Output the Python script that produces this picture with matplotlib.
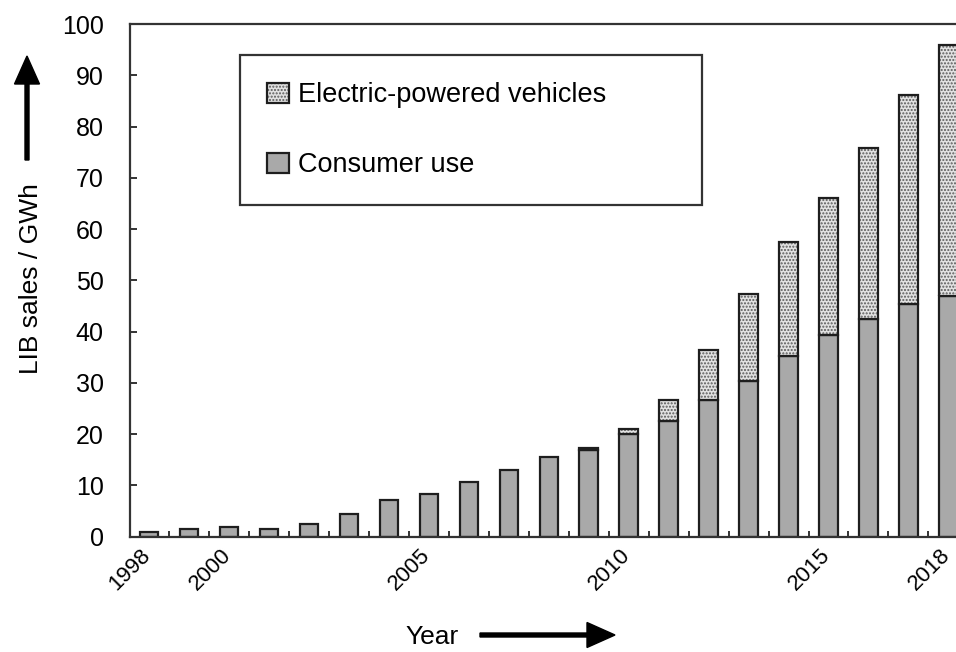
import matplotlib
matplotlib.use("Agg")
import matplotlib.pyplot as plt
from matplotlib.patches import FancyArrow
from matplotlib.legend_handler import HandlerTuple
from matplotlib.transforms import ScaledTranslation
import numpy as np

plt.rcParams['font.family'] = ['Liberation Sans', 'DejaVu Sans']
plt.rcParams['hatch.linewidth'] = 1.0

years = list(range(1998, 2019))
consumer = [0.85, 1.5, 1.85, 1.5, 2.5, 4.5, 7.1, 8.3, 10.6, 13.0, 15.6, 17.0,
            20.0, 22.6, 26.6, 30.4, 35.2, 39.3, 42.4, 45.3, 46.9]
electric = [0, 0, 0, 0, 0, 0, 0, 0, 0, 0, 0, 0.3,
            1.0, 4.1, 9.9, 17.0, 22.2, 26.7, 33.5, 40.8, 49.0]
tick_years = [1998, 2000, 2005, 2010, 2015, 2018]
yticks = list(range(0, 101, 10))
label_consumer = "Consumer use"
label_electric = "Electric-powered vehicles"
xlabel = "Year"
ylabel = "LIB sales / GWh"

W, H, DPI = 956, 652, 100
fig = plt.figure(figsize=(W / DPI, H / DPI), dpi=DPI)
ax = fig.add_axes([130 / W, (H - 536.7) / H, 1 - 130 / W, (536.7 - 24) / H])

x = np.array(years)
bw = 0.46
edge = '#1e1e1e'
cons = ax.bar(x, consumer, width=bw, color='#a9a9a9', edgecolor=edge,
              linewidth=1.6, zorder=2)
ev_fill = ax.bar(x, electric, bottom=consumer, width=bw, color='#e2e2e2',
                 edgecolor='#5a5a5a', linewidth=0, hatch='.....', zorder=2)
ev_edge = ax.bar(x, electric, bottom=consumer, width=bw, fill=False,
                 edgecolor=edge, linewidth=1.6, zorder=3)
for p, v in zip(ev_edge, electric):
    if v == 0:
        p.set_visible(False)

ax.set_xlim(1997.525, 2018.19)
ax.set_ylim(0, 100)

ax.set_xticks(tick_years)
ax.set_xticklabels([str(t) for t in tick_years], rotation=45, ha='right',
                   va='top', fontsize=16)
ax.set_xticks(np.arange(1998.5, 2018, 1.0), minor=True)
ax.tick_params(axis='x', which='major', length=0, pad=6)
ax.tick_params(axis='x', which='minor', direction='in', length=4.5,
               width=1.4, color='#333333')
off = ScaledTranslation(6 / DPI, 0, fig.dpi_scale_trans)
for lab in ax.get_xticklabels():
    lab.set_transform(lab.get_transform() + off)

ax.set_yticks(yticks)
ax.tick_params(axis='y', direction='in', length=5, width=1.4,
               color='#333333', labelsize=18, pad=19)

for s in ['left', 'bottom', 'top']:
    ax.spines[s].set_linewidth(1.6)
    ax.spines[s].set_color('#333333')
ax.spines['right'].set_visible(False)

leg = ax.legend([(ev_fill[-1], ev_edge[-1]), cons[-1]],
                [label_electric, label_consumer],
                handler_map={tuple: HandlerTuple(ndivide=1, pad=0)},
                loc='upper left',
                bbox_to_anchor=(240 / W, 1 - 202 / H, 462 / W, 147 / H),
                bbox_transform=fig.transFigure, mode='expand',
                fontsize=19.5, frameon=True, fancybox=False,
                edgecolor='#333333', framealpha=1, borderpad=1.0,
                labelspacing=1.63, handlelength=0.8, handleheight=0.75,
                handletextpad=0.35, borderaxespad=0)
leg.get_frame().set_linewidth(1.6)

fig.text(432 / W, 1 - 637 / H, xlabel, fontsize=19, ha='center',
         va='center')
fig.text(31 / W, 1 - 279 / H, ylabel, fontsize=19, ha='center',
         va='center', rotation=90)

ax_arrow = FancyArrow(480 / DPI, (H - 635) / DPI, (615 - 480) / DPI, 0,
                      width=4 / DPI, head_width=25 / DPI,
                      head_length=28 / DPI, length_includes_head=True,
                      color='black', transform=fig.dpi_scale_trans)
fig.patches.append(ax_arrow)
ay_arrow = FancyArrow(27 / DPI, (H - 160) / DPI, 0, (160 - 56) / DPI,
                      width=4 / DPI, head_width=25 / DPI,
                      head_length=28 / DPI, length_includes_head=True,
                      color='black', transform=fig.dpi_scale_trans)
fig.patches.append(ay_arrow)

fig.savefig('out.png', dpi=DPI)
